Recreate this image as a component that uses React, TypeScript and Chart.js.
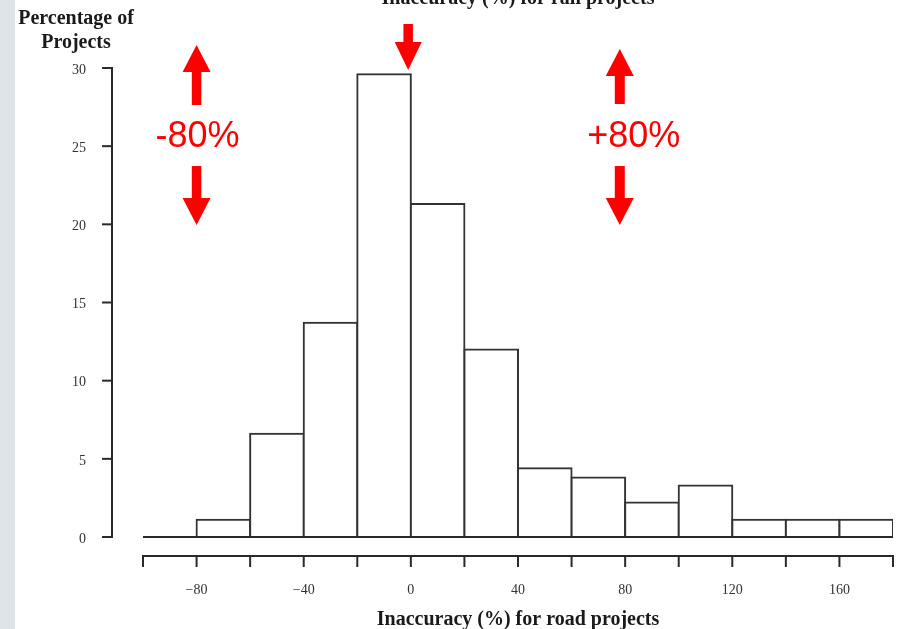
import React, { useEffect, useRef } from 'react';
import { Chart, registerables } from 'chart.js';

Chart.register(...registerables);

// Histogram bins (inaccuracy % for road projects) and share of projects (%)
const binStarts = [-100, -80, -60, -40, -20, 0, 20, 40, 60, 80, 100, 120, 140, 160];
const binWidth = 20;
const roadShares = [0, 1.1, 6.6, 13.7, 29.6, 21.3, 12.0, 4.4, 3.8, 2.2, 3.3, 1.1, 1.1, 1.1];

// Axis ticks
const yTickValues = [0, 5, 10, 15, 20, 25, 30];
const yTickLabels = ['0', '5', '10', '15', '20', '25', '30'];
const xTickValues = [-100, -80, -60, -40, -20, 0, 20, 40, 60, 80, 100, 120, 140, 160, 180];
const xLabelValues = [-80, -40, 0, 40, 80, 120, 160];
const xLabelTexts = ['\u221280', '\u221240', '0', '40', '80', '120', '160'];

// Rail-project markers (annotations)
const railMarkerValues = [-80, -1, 78];
const railMarkerTexts = ['-80%', '', '+80%'];

const yTitleLines = ['Percentage of', 'Projects'];
const xTitle = 'Inaccuracy (%) for road projects';
const topTitle = 'Inaccuracy (%) for rail projects';

const SERIF = '"Liberation Serif", "DejaVu Serif", serif';
const SANS = '"Liberation Sans", Arial, sans-serif';

function arrow(ctx: CanvasRenderingContext2D, x: number, shaftStart: number, headBase: number, tip: number, shaftW: number, headW: number) {
  ctx.beginPath();
  ctx.moveTo(x - shaftW / 2, shaftStart);
  ctx.lineTo(x + shaftW / 2, shaftStart);
  ctx.lineTo(x + shaftW / 2, headBase);
  ctx.lineTo(x + headW / 2, headBase);
  ctx.lineTo(x, tip);
  ctx.lineTo(x - headW / 2, headBase);
  ctx.lineTo(x - shaftW / 2, headBase);
  ctx.closePath();
  ctx.fill();
}

const decorPlugin = {
  id: 'decor',
  beforeDraw(chart: any) {
    const ctx: CanvasRenderingContext2D = chart.ctx;
    ctx.save();
    ctx.fillStyle = '#ffffff';
    ctx.fillRect(0, 0, chart.width, chart.height);
    ctx.fillStyle = '#dee4e7';
    ctx.fillRect(0, 0, 15, chart.height);
    ctx.restore();
  },
  afterDraw(chart: any) {
    const ctx: CanvasRenderingContext2D = chart.ctx;
    const xs = chart.scales.x;
    const ys = chart.scales.y;
    const y0 = ys.getPixelForValue(0);
    ctx.save();
    ctx.strokeStyle = '#2a2a2a';
    ctx.fillStyle = '#2a2a2a';
    ctx.lineWidth = 2;

    // histogram baseline
    ctx.beginPath();
    ctx.moveTo(xs.getPixelForValue(xTickValues[0]), y0);
    ctx.lineTo(xs.getPixelForValue(xTickValues[xTickValues.length - 1]), y0);
    ctx.stroke();

    // y axis (detached, R style)
    const yAxisX = 112;
    ctx.beginPath();
    ctx.moveTo(yAxisX, ys.getPixelForValue(yTickValues[0]) + 1);
    ctx.lineTo(yAxisX, ys.getPixelForValue(yTickValues[yTickValues.length - 1]) - 1);
    ctx.stroke();
    ctx.font = '14px ' + SERIF;
    ctx.textAlign = 'right';
    ctx.textBaseline = 'middle';
    ctx.fillStyle = '#333';
    yTickValues.forEach((v, i) => {
      const py = ys.getPixelForValue(v);
      ctx.beginPath();
      ctx.moveTo(yAxisX + 1, py);
      ctx.lineTo(yAxisX - 10, py);
      ctx.stroke();
      ctx.fillText(yTickLabels[i], 86, py + 2);
    });

    // x axis
    const xAxisY = 556;
    ctx.beginPath();
    ctx.moveTo(xs.getPixelForValue(xTickValues[0]) - 1, xAxisY);
    ctx.lineTo(xs.getPixelForValue(xTickValues[xTickValues.length - 1]) + 1, xAxisY);
    ctx.stroke();
    xTickValues.forEach((v) => {
      const px = xs.getPixelForValue(v);
      ctx.beginPath();
      ctx.moveTo(px, xAxisY - 1);
      ctx.lineTo(px, xAxisY + 11);
      ctx.stroke();
    });
    ctx.textAlign = 'center';
    xLabelValues.forEach((v, i) => {
      ctx.fillText(xLabelTexts[i], xs.getPixelForValue(v), 590);
    });

    // titles
    ctx.fillStyle = '#1a1a1a';
    ctx.font = 'bold 20px ' + SERIF;
    ctx.textBaseline = 'alphabetic';
    ctx.textAlign = 'center';
    ctx.fillText(yTitleLines[0], 76, 24);
    ctx.fillText(yTitleLines[1], 76, 48);
    ctx.fillText(xTitle, 518, 625);
    ctx.fillText(topTitle, 518, 4);

    // red annotation arrows
    ctx.fillStyle = '#ff0000';
    const lx = xs.getPixelForValue(railMarkerValues[0]);
    arrow(ctx, lx, 105, 72, 45, 9.5, 28);
    arrow(ctx, lx, 166, 198, 225, 9.5, 28);
    const cx = xs.getPixelForValue(railMarkerValues[1]);
    arrow(ctx, cx, 24, 42, 70, 9.5, 27);
    const rx = xs.getPixelForValue(railMarkerValues[2]);
    arrow(ctx, rx, 104, 76, 49, 10, 28);
    arrow(ctx, rx, 166, 198, 225, 10, 28);
    ctx.font = '36px ' + SANS;
    ctx.textAlign = 'center';
    ctx.fillText(railMarkerTexts[0], lx + 1, 147);
    ctx.fillText(railMarkerTexts[2], rx + 14, 147);
    ctx.restore();
  },
};

export default function App() {
  const ref = useRef<HTMLCanvasElement>(null);
  useEffect(() => {
    if (!ref.current) return;
    const chart = new Chart(ref.current, {
      type: 'bar',
      data: {
        datasets: [
          {
            data: binStarts.map((s, i) => ({ x: s + binWidth / 2, y: roadShares[i] })),
            backgroundColor: '#ffffff',
            borderColor: '#333333',
            borderWidth: 2,
            inflateAmount: 1,
            borderSkipped: false,
            barPercentage: 1,
            categoryPercentage: 1,
          } as any,
        ],
      },
      options: {
        responsive: false,
        animation: false,
        layout: { padding: { left: 143, right: 10, top: 68, bottom: 92 } },
        plugins: { legend: { display: false }, tooltip: { enabled: false } },
        scales: {
          x: { type: 'linear', min: -100, max: 180, offset: false, display: false },
          y: { min: 0, max: 30, display: false },
        },
      },
      plugins: [decorPlugin],
    });
    return () => chart.destroy();
  }, []);
  return (
    <div style={{ position: 'absolute', left: 0, top: 0, width: 903, height: 629 }}>
      <canvas ref={ref} width={903} height={629} style={{ display: 'block' }} />
    </div>
  );
}
